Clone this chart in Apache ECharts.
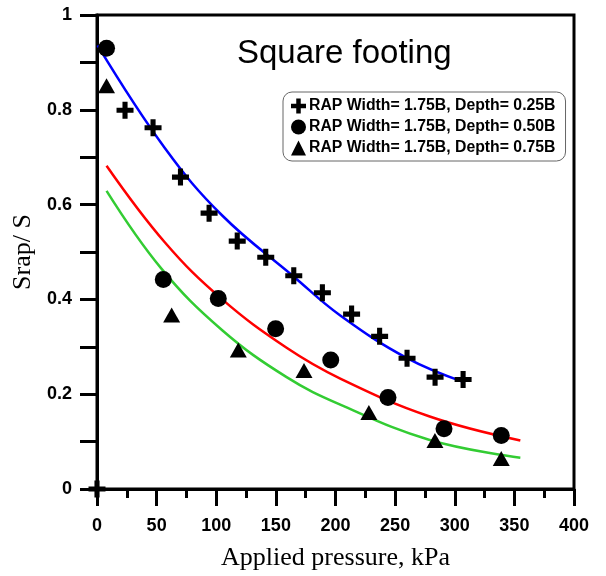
<!DOCTYPE html>
<html>
<head>
<meta charset="utf-8">
<script src="https://cdn.jsdelivr.net/npm/echarts@6/dist/echarts.min.js"></script>
<style>
  html, body { margin: 0; padding: 0; background: #fff; }
  #chart { width: 606px; height: 576px; }
</style>
</head>
<body>
<div id="chart"></div>
<script>
// legend names
var names = ['RAP Width= 1.75B, Depth= 0.25B', 'RAP Width= 1.75B, Depth= 0.50B', 'RAP Width= 1.75B, Depth= 0.75B'];

// measured points [pressure kPa, Srap/S]
var depth025 = [[0, 0], [23.5, 0.799], [47, 0.762], [70, 0.658], [94, 0.582], [117.6, 0.523], [141.5, 0.489],
    [165, 0.450], [189, 0.414], [213.5, 0.369], [237, 0.322], [260, 0.276], [283.5, 0.236], [307, 0.231]];
var depth050 = [[8, 0.93], [55.6, 0.442], [101.7, 0.402], [149.8, 0.338], [196, 0.272], [244, 0.193],
    [291, 0.127], [339, 0.113]];
var depth075 = [[8, 0.851], [62.6, 0.367], [118.5, 0.293], [173.6, 0.25], [228, 0.1615], [283.4, 0.1025],
    [339, 0.0645]];

// fitted curves
var fit025 = [[0.5, 0.936], [57, 0.719], [105, 0.577], [164.6, 0.449], [204, 0.366], [260, 0.276], [307, 0.226]];
var fit050 = [[8, 0.682], [57, 0.520], [105, 0.400], [159, 0.298], [204, 0.233], [279, 0.153], [355, 0.1025]];
var fit075 = [[8, 0.629], [54, 0.465], [105, 0.335], [159, 0.236], [204, 0.178], [279, 0.1035], [355, 0.066]];

var plusPath = 'path://M3.5,0H6.5V3.5H10V6.5H6.5V10H3.5V6.5H0V3.5H3.5Z';

var chart = echarts.init(document.getElementById('chart'));

function fitLine(data, color) {
    return {
        type: 'line',
        data: data,
        smooth: 0.4,
        symbol: 'none',
        silent: true,
        lineStyle: { color: color, width: 2.5 },
        z: 2
    };
}

function points(name, data, symbol, size) {
    return {
        name: name,
        type: 'scatter',
        data: data,
        symbol: symbol,
        symbolSize: size,
        itemStyle: { color: '#000', opacity: 1 },
        z: 3
    };
}

var option = {
    animation: false,
    title: {
        text: 'Square footing',
        left: 237,
        top: 37,
        padding: 0,
        textStyle: { fontFamily: 'Liberation Sans', fontSize: 33, fontWeight: 'normal', color: '#000' }
    },
    legend: {
        orient: 'vertical',
        left: 283,
        top: 92,
        padding: [6, 10, 5, 8],
        itemGap: 5,
        itemWidth: 15,
        itemHeight: 15,
        borderColor: '#666',
        borderWidth: 1,
        borderRadius: 9,
        data: [
            { name: names[0], icon: plusPath },
            { name: names[1], icon: 'circle' },
            { name: names[2], icon: 'triangle' }
        ],
        textStyle: { fontFamily: 'Liberation Sans', fontSize: 15.8, fontWeight: 'bold', color: '#000', padding: [0, 0, 0, -2] }
    },
    grid: {
        left: 97, right: 32, top: 15, bottom: 80,
        show: true,
        borderColor: '#000',
        borderWidth: 3
    },
    xAxis: {
        type: 'value',
        min: 0, max: 400, interval: 50,
        name: 'Applied pressure, kPa',
        nameLocation: 'middle',
        nameGap: 56,
        nameTextStyle: { fontFamily: 'Liberation Serif', fontSize: 26, color: '#000' },
        axisLine: { onZero: false, lineStyle: { color: '#000', width: 3 } },
        axisTick: { length: 17, lineStyle: { color: '#000', width: 3 } },
        minorTick: { show: true, splitNumber: 2, length: 9, lineStyle: { color: '#000', width: 3 } },
        axisLabel: { margin: 28, fontFamily: 'Liberation Sans', fontSize: 18, fontWeight: 'bold', color: '#000' },
        splitLine: { show: false }
    },
    yAxis: {
        type: 'value',
        min: 0, max: 1, interval: 0.2,
        name: 'Srap/ S',
        nameLocation: 'middle',
        nameGap: 60,
        nameTextStyle: { fontFamily: 'Liberation Serif', fontSize: 26, color: '#000' },
        axisLine: { onZero: false, lineStyle: { color: '#000', width: 3 } },
        axisTick: { length: 17, lineStyle: { color: '#000', width: 3 } },
        minorTick: { show: true, splitNumber: 2, length: 17, lineStyle: { color: '#000', width: 3 } },
        axisLabel: { margin: 25, fontFamily: 'Liberation Sans', fontSize: 18, fontWeight: 'bold', color: '#000' },
        splitLine: { show: false }
    },
    series: [
        fitLine(fit025, '#0000ff'),
        fitLine(fit050, '#ff0000'),
        fitLine(fit075, '#33cc33'),
        points(names[0], depth025, plusPath, 17),
        points(names[1], depth050, 'circle', 17),
        points(names[2], depth075, 'triangle', [17, 15])
    ]
};

chart.setOption(option);
</script>
</body>
</html>
